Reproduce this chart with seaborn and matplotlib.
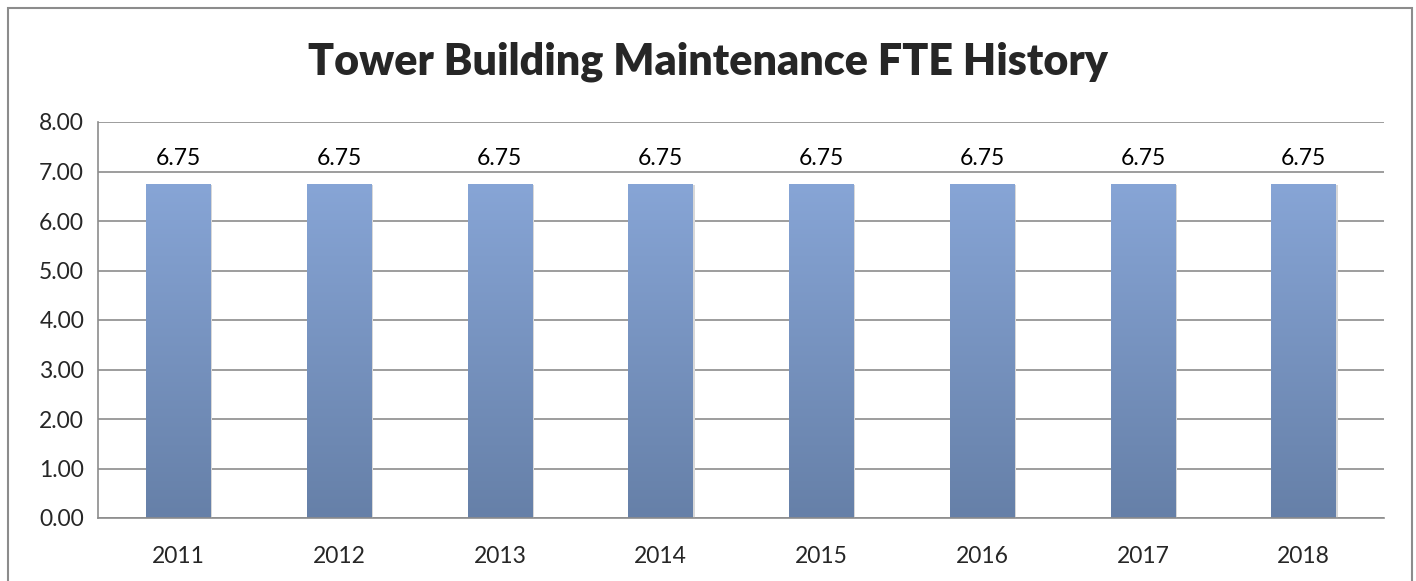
import numpy as np
import pandas as pd
import matplotlib
matplotlib.use("Agg")
import matplotlib.pyplot as plt
from matplotlib.colors import LinearSegmentedColormap
from matplotlib.patches import Rectangle
import seaborn as sns



# Chart data
years = ["2011", "2012", "2013", "2014", "2015", "2016", "2017", "2018"]
fte = [6.75, 6.75, 6.75, 6.75, 6.75, 6.75, 6.75, 6.75]
y_ticks = [0, 1, 2, 3, 4, 5, 6, 7, 8]

df = pd.DataFrame({"year": years, "fte": fte})



# Style
sns.set_style("white")
plt.rcParams["font.family"] = ["Lato", "DejaVu Sans"]

grid_color = "#8c8c8c"
bar_top = "#87a5d6"
bar_bottom = "#6680a8"



fig = plt.figure(figsize=(14.16, 5.81), dpi=100)
ax = fig.add_axes([98 / 1416, 1 - 518 / 581, (1384 - 98) / 1416, (518 - 122) / 581])

sns.barplot(data=df, x="year", y="fte", width=0.4, color=bar_top, ax=ax)



# Gradient fill for each bar
cmap = LinearSegmentedColormap.from_list("bar", [bar_bottom, bar_top])
grad = np.linspace(0, 1, 256).reshape(-1, 1)
for patch in ax.patches:
    x0 = patch.get_x()
    w = patch.get_width()
    h = patch.get_height()
    patch.set_facecolor("none")
    patch.set_edgecolor("none")
    # faint shadow
    shadow = Rectangle((x0 + 0.012, -0.03), w, h, facecolor="#d8d8d8",
                       edgecolor="none", zorder=1.5)
    ax.add_patch(shadow)
    im = ax.imshow(grad, cmap=cmap, origin="lower", aspect="auto",
                   extent=(x0, x0 + w, 0, h), zorder=2)
    im.set_clip_path(patch)



# Value labels
for i, v in enumerate(fte):
    ax.text(i, v + 0.3, f"{v:.2f}", ha="center", va="bottom", fontsize=16.5, color="black")



# Axes
ax.set_xlim(-0.5, len(years) - 0.5)
ax.set_ylim(0, 8)
ax.set_yticks(y_ticks)
ax.set_yticklabels([f"{t:.2f}" for t in y_ticks], fontsize=16.5)
ax.set_xticks(range(len(years)))
ax.set_xticklabels(years, fontsize=16.5)
ax.set_xticks(np.arange(-0.5, len(years), 1.0), minor=True)
ax.tick_params(axis="x", which="major", length=0, pad=20)
ax.tick_params(axis="x", which="minor", length=6, width=1.2, color=grid_color, direction="out")
ax.tick_params(axis="y", length=6, width=1.2, color=grid_color, direction="out", pad=4)
ax.set_xlabel("")
ax.set_ylabel("")

ax.yaxis.grid(True, color=grid_color, linewidth=1.2)
ax.set_axisbelow(True)
for side in ["top", "right"]:
    ax.spines[side].set_visible(False)
for side in ["left", "bottom"]:
    ax.spines[side].set_color(grid_color)
    ax.spines[side].set_linewidth(1.2)

fig.text(0.5, 1 - 62 / 581, "Tower Building Maintenance FTE History",
         ha="center", va="center", fontsize=31, fontweight="heavy")



# Outer chart border
fig.patches.append(Rectangle((8 / 1416, -0.1), (1412 - 8) / 1416, 1.1 - 8 / 581,
                             transform=fig.transFigure, fill=False,
                             edgecolor=grid_color, linewidth=1.5))

fig.savefig("out.png", dpi=100)
